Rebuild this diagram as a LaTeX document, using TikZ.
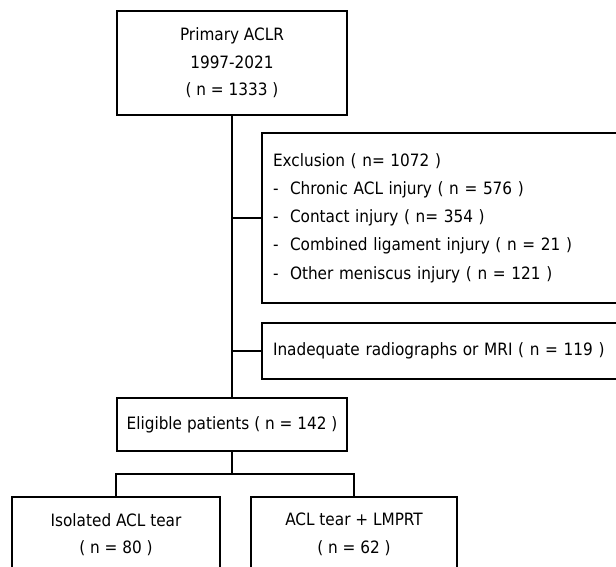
\documentclass[tikz,border=0pt]{standalone}
\usepackage{fontspec}
\setmainfont{DejaVu Sans Condensed}
\usepackage{tikz}
\usetikzlibrary{
	calc,
	positioning
	}
\tikzstyle{boite-std}=[draw,line width=2pt,rectangle,inner sep=0pt,align=center,font=\fontsize{17}{27.5}\selectfont]
\tikzstyle{boite-liste}=[boite-std,align=left,inner xsep=11pt,text width=334pt,font=\fontsize{17}{28.3}\selectfont]
\tikzstyle{trait-std}=[line width=2pt]
\newcommand{\tiret}{\makebox[17pt][l]{-}}

\begin{document}
\begin{tikzpicture}[x=1pt,y=-1pt]
\clip (0,0) rectangle (616,567);
\fill[white] (0,0) rectangle (616,567);

\node[boite-std,minimum width=230pt,minimum height=104pt] (boite0) at (232,63) {Primary ACLR\\1997-2021\\( n = 1333 )};
\node[boite-liste,minimum height=170pt,anchor=west] (exclusion) at (261,218) {Exclusion ( n= 1072 )\\
	\tiret Chronic ACL injury ( n = 576 )\\
	\tiret Contact injury ( n= 354 )\\
	\tiret Combined ligament injury ( n = 21 )\\
	\tiret Other meniscus injury ( n = 121 )};
\node[boite-liste,minimum height=56pt,anchor=west] (inadequat) at (261,351) {Inadequate radiographs or MRI ( n = 119 )};
\node[boite-std,minimum width=230pt,minimum height=53pt] (eligible) at (232,424.5) {Eligible patients ( n = 142 )};
\node[boite-std,minimum width=208pt,minimum height=75pt] (isole) at (116,534.5) {Isolated ACL tear\\( n = 80 )};
\node[boite-std,minimum width=206pt,minimum height=75pt] (lmprt) at (354,534.5) {ACL tear + LMPRT\\( n = 62 )};

\coordinate (fourche) at ($(eligible.south)!0.5!(eligible.south |- isole.north)$);

\draw[trait-std] (boite0.south) -- (eligible.north);
\draw[trait-std] (boite0.south |- exclusion.west) -- (exclusion.west);
\draw[trait-std] (boite0.south |- inadequat.west) -- (inadequat.west);
\draw[trait-std] (eligible.south) -- (fourche);
\draw[trait-std] (isole.north) |- (fourche) -| (lmprt.north);
\end{tikzpicture}
\end{document}
